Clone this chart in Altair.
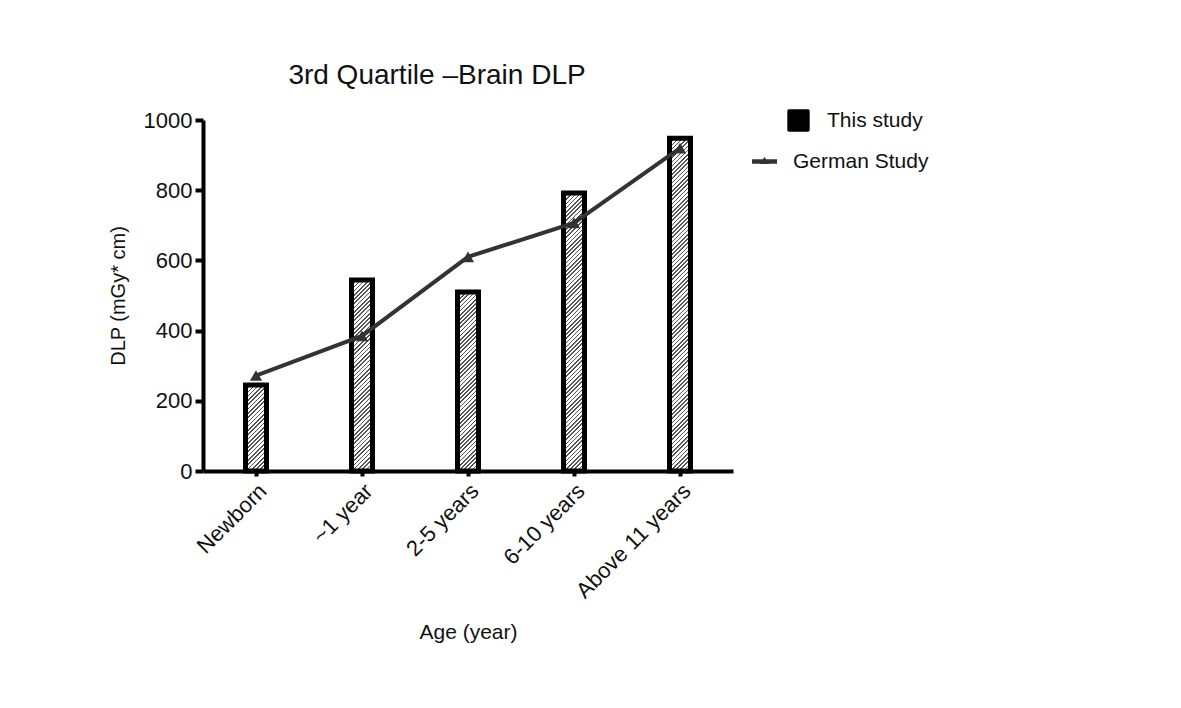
import altair as alt
import pandas as pd

ages = ["Newborn", "~1 year", "2-5 years", "6-10 years", "Above 11 years"]
this_study = [245, 544, 510, 792, 948]
german_study = [272, 385, 610, 707, 920]
y_ticks = [0, 200, 400, 600, 800, 1000]

df = pd.DataFrame({
    "age": ages,
    "this": this_study,
    "german": german_study,
    "s1": ["This study"] * len(ages),
    "s2": ["German Study"] * len(ages),
})

W, H = 530, 351
BAR_W = 21
FONT = "Liberation Sans"
INK = "#111111"
LINE_C = "#333333"


def hatch(v):
    w = BAR_W
    h = max(v * H / 1000.0, 1.0)
    r = h / w
    s = (w + h) / (w * (1 + r * r))
    n = max(1, round((w + h) / 4.2))
    frac = 0.38
    stops = []
    for k in range(n):
        a = k / n
        b = (k + frac) / n
        c = (k + 1) / n
        stops += [
            alt.GradientStop(offset=a, color="#555555"),
            alt.GradientStop(offset=b, color="#555555"),
            alt.GradientStop(offset=b, color="#ffffff"),
            alt.GradientStop(offset=c, color="#ffffff"),
        ]
    return alt.LinearGradient(gradient="linear", stops=stops, x1=0, y1=0, x2=s, y2=s * r)


x_enc = alt.X(
    "age:N", sort=ages, title="Age (year)",
    scale=alt.Scale(paddingInner=0, paddingOuter=0),
    axis=alt.Axis(labelAngle=-45, labelFontSize=22, labelFont=FONT, labelColor=INK,
                  titleFontSize=21, titleFont=FONT, titleFontWeight="normal", titleColor=INK,
                  tickSize=5, tickWidth=4, tickColor="black", domainWidth=4, domainColor="black",
                  labelPadding=4, titlePadding=20, grid=False),
)
y_enc = alt.Y(
    "this:Q", title="DLP (mGy* cm)", scale=alt.Scale(domain=[0, 1000]),
    axis=alt.Axis(values=y_ticks, format="d", labelFontSize=22, labelFont=FONT, labelColor=INK,
                  titleFontSize=20, titleFont=FONT, titleFontWeight="normal", titleColor=INK,
                  tickSize=8, tickWidth=4, tickColor="black", domainWidth=4, domainColor="black",
                  labelPadding=3, titlePadding=15, grid=False),
)

layers = []
for a, v in zip(ages, this_study):
    layers.append(
        alt.Chart(df).transform_filter(alt.datum.age == a).mark_bar(
            size=BAR_W, fill=hatch(v), stroke="black", strokeWidth=5, strokeJoin="miter"
        ).encode(x=x_enc, y=y_enc)
    )

# legend entry for the bars (no marks drawn: data filtered out)
bar_key = alt.Chart(df).transform_filter("false").mark_square(filled=True, opacity=1).encode(
    x=x_enc, y=y_enc,
    fill=alt.Fill("s1:N", scale=alt.Scale(domain=["This study"], range=["black"]),
                  legend=alt.Legend(title=None, orient="none", legendX=584, legendY=-11,
                                    symbolType="M-1,-0.85Q-1,-1 -0.85,-1H0.85Q1,-1 1,-0.85V0.85Q1,1 0.85,1H-0.85Q-1,1 -1,0.85Z",
                                    symbolSize=500, symbolFillColor="black", symbolOpacity=1,
                                    symbolStrokeWidth=0,
                                    labelFontSize=21, labelFont=FONT, labelColor=INK, labelOffset=17)),
)

line = alt.Chart(df).mark_line(
    strokeWidth=4,
    point=alt.OverlayMarkDef(shape="triangle-up", size=150, filled=True, color=LINE_C),
).encode(
    x=x_enc,
    y=alt.Y("german:Q"),
    color=alt.Color("s2:N", scale=alt.Scale(domain=["German Study"], range=[LINE_C]),
                    legend=alt.Legend(title=None, orient="none", legendX=549, legendY=29,
                                      symbolType="M-1,-0.18H1V0.18H-1Z M-0.4,0.2L0,-0.36L0.4,0.2Z",
                                      symbolSize=625, symbolFillColor=LINE_C, symbolStrokeWidth=0,
                                      labelFontSize=21, labelFont=FONT, labelColor=INK, labelOffset=16)),
)

chart = alt.layer(*layers, bar_key, line).properties(
    width=W, height=H,
    title=alt.TitleParams("3rd Quartile –Brain DLP", fontSize=28, font=FONT, fontWeight="normal",
                          color=INK, anchor="middle", dx=-31, offset=19),
    padding={"left": 195, "top": 112, "right": 430, "bottom": 210},
    autosize=alt.AutoSizeParams(type="none"),
).configure_view(stroke=None)

chart.save("out.html", embed_options={"renderer": "svg", "actions": False})
